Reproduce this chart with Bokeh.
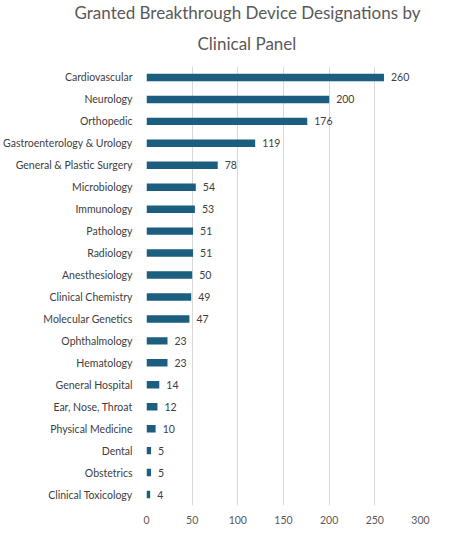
from bokeh.plotting import figure
from bokeh.models import ColumnDataSource, FactorRange, Title
from bokeh.core.properties import value
from bokeh.embed import file_html
from bokeh.resources import INLINE

categories = ["Cardiovascular", "Neurology", "Orthopedic", "Gastroenterology & Urology",
              "General & Plastic Surgery", "Microbiology", "Immunology", "Pathology",
              "Radiology", "Anesthesiology", "Clinical Chemistry", "Molecular Genetics",
              "Ophthalmology", "Hematology", "General Hospital", "Ear, Nose, Throat",
              "Physical Medicine", "Dental", "Obstetrics", "Clinical Toxicology"]
counts = [260, 200, 176, 119, 78, 54, 53, 51, 51, 50, 49, 47, 23, 23, 14, 12, 10, 5, 5, 4]
x_ticks = [0, 50, 100, 150, 200, 250, 300]
title_line1 = "Granted Breakthrough Device Designations by"
title_line2 = "Clinical Panel"

FONT = "Lato"
source = ColumnDataSource(dict(cat=categories, val=counts, lab=[str(v) for v in counts]))

p = figure(frame_width=274, frame_height=439, output_backend="svg", toolbar_location=None,
           y_range=FactorRange(factors=list(reversed(categories))),
           x_range=(0, 300), min_border_left=141, min_border_right=19,
           min_border_top=66, min_border_bottom=18)
p.outline_line_color = None
p.background_fill_color = "white"
p.border_fill_color = "white"

p.title.text = title_line1
p.title.align = "left"
p.title.offset = -72
p.title.text_font = FONT
p.title.text_font_size = "17px"
p.title.text_font_style = "normal"
p.title.text_color = "#595959"
p.title.standoff = -9

t2 = Title(text=title_line2, align="left", offset=51, text_font=FONT,
           text_font_size="17px", text_font_style="normal", text_color="#595959",
           standoff=25)
p.add_layout(t2, "above")

p.hbar(y="cat", right="val", left=0, height=0.34, source=source,
       fill_color="#1b5e80", line_color=None)
p.text(x="val", y="cat", text="lab", source=source, x_offset=7,
       text_align="left", text_baseline="middle", text_font=value(FONT),
       text_font_size="10.5px", text_color="#404040")

p.xaxis.ticker = x_ticks
p.xaxis.axis_line_color = None
p.xaxis.major_tick_line_color = None
p.xaxis.minor_tick_line_color = None
p.xaxis.major_label_text_font = FONT
p.xaxis.major_label_text_font_size = "10.5px"
p.xaxis.major_label_text_color = "#595959"
p.xaxis.major_label_standoff = 4

p.yaxis.axis_line_color = None
p.yaxis.major_tick_line_color = None
p.yaxis.major_label_text_font = FONT
p.yaxis.major_label_text_font_size = "10.5px"
p.yaxis.major_label_text_color = "#404040"
p.yaxis.major_label_standoff = 8

p.xgrid.grid_line_color = "#d9d9d9"
p.ygrid.grid_line_color = None

open("out.html", "w").write(file_html(p, INLINE))
